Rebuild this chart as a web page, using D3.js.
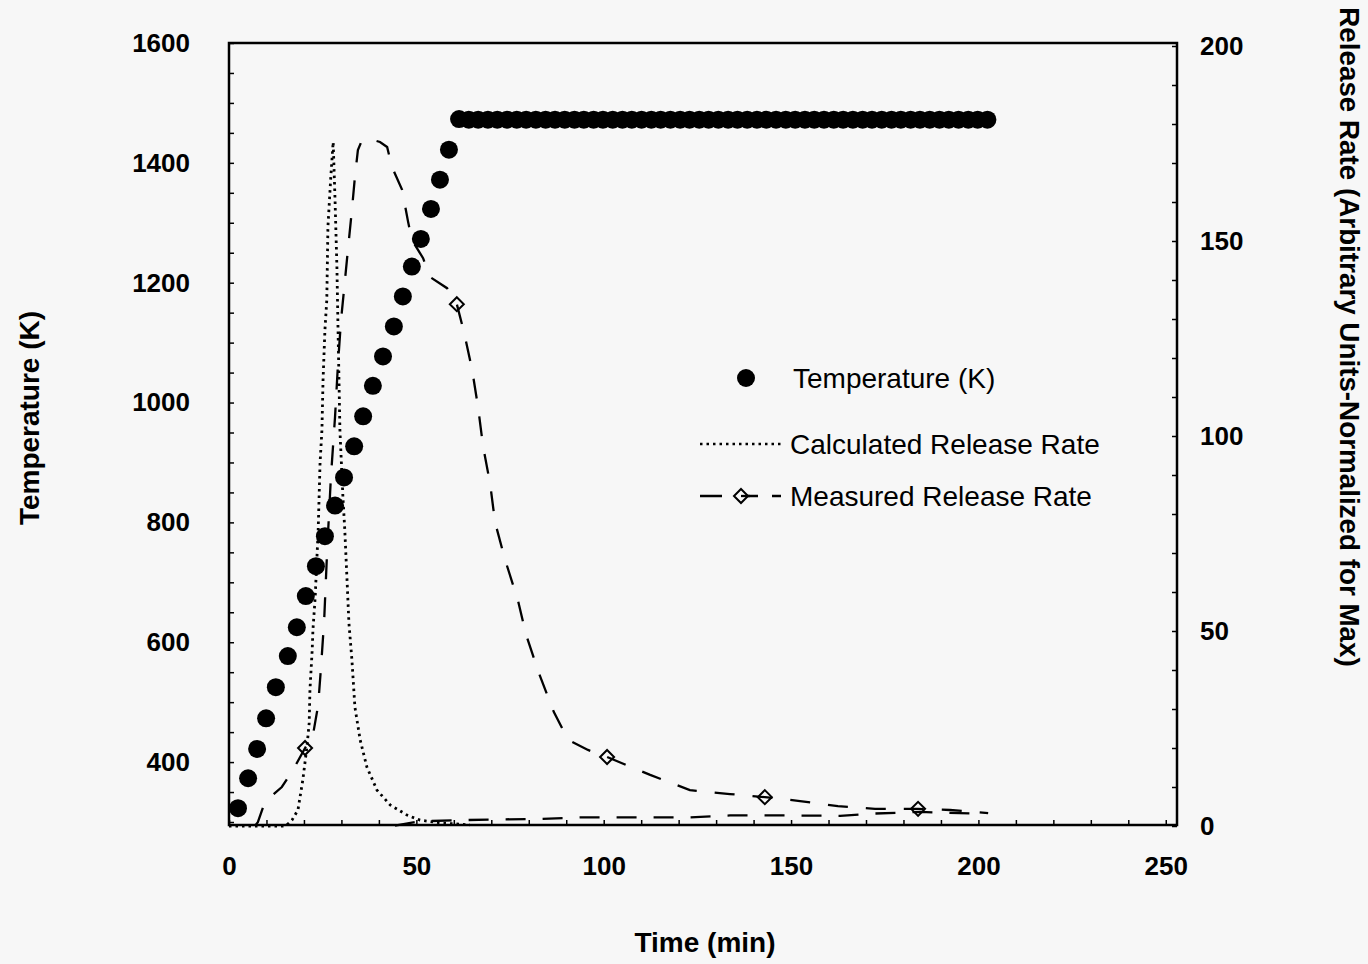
<!DOCTYPE html>
<html>
<head>
<meta charset="utf-8">
<script src="https://cdn.jsdelivr.net/npm/d3@7"></script>
<style>
  body { margin: 0; background: #f7f7f7; }
  svg { display: block; background: #f7f7f7; }
</style>
</head>
<body>
<div id="chart"></div>
<script>
// temperature (K), time in min
var tempTime = [2.4, 5.1, 7.5, 9.9, 12.5, 15.7, 18.1, 20.5, 23.2, 25.6, 28.3, 30.7, 33.4, 35.8,
  38.4, 41.1, 44.0, 46.4, 48.8, 51.2, 53.9, 56.3, 58.7, 61.4,
  64.0, 66.5, 69.1, 71.6, 74.2, 76.8, 79.3, 81.9, 84.5, 87.0, 89.6, 92.2, 94.7, 97.3, 99.8,
  102.4, 105.0, 107.5, 110.1, 112.7, 115.2, 117.8, 120.4, 122.9, 125.5, 128.0, 130.6, 133.2,
  135.7, 138.3, 140.9, 143.4, 146.0, 148.6, 151.1, 153.7, 156.2, 158.8, 161.4, 163.9, 166.5,
  169.1, 171.6, 174.2, 176.8, 179.3, 181.9, 184.4, 187.0, 189.6, 192.1, 194.7, 197.3, 199.8, 202.4];
var tempK = [323, 373, 422, 473, 525, 577, 625, 677, 727, 777, 828, 875, 927, 977,
  1028, 1077, 1127, 1177, 1227, 1273, 1323, 1372, 1422, 1473,
  1472, 1472, 1472, 1472, 1472, 1472, 1472, 1472, 1472, 1472, 1472, 1472, 1472, 1472, 1472,
  1472, 1472, 1472, 1472, 1472, 1472, 1472, 1472, 1472, 1472, 1472, 1472, 1472,
  1472, 1472, 1472, 1472, 1472, 1472, 1472, 1472, 1472, 1472, 1472, 1472, 1472,
  1472, 1472, 1472, 1472, 1472, 1472, 1472, 1472, 1472, 1472, 1472, 1472, 1472, 1472];

// calculated release rate (dotted)
var calcTime = [0, 15.0, 16.3, 16.8, 18.4, 19.7, 20.8, 21.4, 21.6, 22.2, 22.4, 23.0, 23.8, 24.3,
  24.8, 25.1, 25.6, 26.1, 26.4, 27.2, 27.8, 28.3, 28.8, 29.1, 29.6, 30.4, 30.9, 31.5, 32.0,
  32.8, 33.6, 35.0, 36.8, 39.5, 43.0, 47.5, 51.0, 56.3, 64.3];
var calcRate = [0, 0, 1.0, 1.5, 4.1, 11.8, 20.3, 26.4, 34.9, 45.1, 50.3, 58.7, 75.9, 93.1,
  101.5, 114.4, 127.2, 134.9, 153.6, 166.9, 175.4, 160.5, 143.3, 127.2, 101.5, 84.4, 75.9, 63.1, 52.1,
  42.6, 30.5, 22.1, 15.1, 9.2, 5.4, 2.8, 1.5, 0.8, 0.3];

// measured release rate (dashed)
var measTime = [6.9, 7.7, 9.6, 14.1, 17.1, 20.3, 22.4, 23.8, 24.6, 25.4, 26.2, 27.2, 28.3, 29.1,
  29.9, 31.0, 32.0, 32.8, 33.6, 34.4, 35.5, 38.4, 40.3, 42.2, 43.5, 46.2, 47.8, 48.8, 51.8,
  53.6, 58.2, 60.8, 62.7, 64.9, 66.5, 67.8, 69.7, 71.0, 73.7, 77.1, 79.3, 82.7, 86.7, 90.5,
  95.8, 100.9, 112.4, 123.0, 133.7, 143.0, 152.4, 162.5, 172.4, 183.9, 192.4, 202.6];
var measRate = [0, 1.0, 6.2, 10.0, 14.4, 20.0, 23.3, 31.0, 41.3, 52.8, 70.8, 89.5, 104.9, 118.7,
  129.7, 140.5, 150.3, 157.9, 166.4, 173.3, 175.9, 175.9, 175.4, 174.1, 169.0, 163.1, 154.9, 150.3, 145.6,
  140.8, 137.9, 133.8, 126.7, 116.9, 107.2, 97.4, 87.7, 77.9, 68.2, 57.9, 49.0, 39.2, 29.2, 22.1,
  19.5, 17.7, 13.1, 9.2, 8.2, 7.4, 6.4, 5.1, 4.4, 4.4, 4.1, 3.3];
var markTime = [20.3, 60.8, 100.9, 143.0, 183.9];
var markRate = [20.0, 133.8, 17.7, 7.4, 4.4];

// second low dashed trace near zero
var lowTime = [44.3, 51.0, 61.6, 72.3, 83.0, 93.7, 109.7, 123.0, 133.7, 149.7, 163.1, 172.4, 184.4, 202.0];
var lowRate = [0.1, 1.2, 1.5, 1.7, 1.8, 2.2, 2.2, 2.2, 2.7, 2.7, 2.6, 3.2, 3.6, 3.1];

var tempTicks = [400, 600, 800, 1000, 1200, 1400, 1600];
var rateTicks = [0, 50, 100, 150, 200];
var timeTicks = [0, 50, 100, 150, 200, 250];

var width = 1368, height = 964;
var plotLeft = 229, plotRight = 1177, plotTop = 43, plotBottom = 825;
var font = "'Liberation Sans', Arial, sans-serif";

var svg = d3.select("#chart").append("svg")
  .attr("width", width)
  .attr("height", height);

var x = d3.scaleLinear().domain([0, 253]).range([plotLeft, plotRight]);
var yT = d3.scaleLinear().domain([295, 1600]).range([plotBottom, plotTop]);
var yR = d3.scaleLinear().domain([0, 200]).range([plotBottom + 1, plotTop + 3]);

// minor ticks, pointing inward
svg.append("g")
  .attr("transform", `translate(${plotLeft},0)`)
  .call(d3.axisLeft(yT).tickValues(d3.range(300, 1601, 50)).tickSize(-5).tickFormat(""))
  .call(g => g.select(".domain").remove());
svg.append("g")
  .attr("transform", `translate(${plotRight},0)`)
  .call(d3.axisRight(yR).tickValues(d3.range(0, 201, 10)).tickSize(-5).tickFormat(""))
  .call(g => g.select(".domain").remove());
svg.append("g")
  .attr("transform", `translate(0,${plotBottom})`)
  .call(d3.axisBottom(x).tickValues(d3.range(0, 251, 10)).tickSize(-5).tickFormat(""))
  .call(g => g.select(".domain").remove());
svg.selectAll(".tick line").attr("stroke", "#000").attr("stroke-width", 1.5);

// tick labels
function styleLabels(g, size) {
  g.select(".domain").remove();
  g.attr("font-family", font).attr("font-size", size).attr("font-weight", "bold");
  g.selectAll("text").attr("fill", "#000");
}
svg.append("g")
  .attr("transform", `translate(${plotLeft},0)`)
  .call(d3.axisLeft(yT).tickValues(tempTicks).tickFormat(d3.format("d")).tickSize(0).tickPadding(39))
  .call(g => styleLabels(g, 26));
svg.append("g")
  .attr("transform", `translate(${plotRight},0)`)
  .call(d3.axisRight(yR).tickValues(rateTicks).tickFormat(d3.format("d")).tickSize(0).tickPadding(23))
  .call(g => styleLabels(g, 26));
svg.append("g")
  .attr("transform", `translate(0,${plotBottom})`)
  .call(d3.axisBottom(x).tickValues(timeTicks).tickFormat(d3.format("d")).tickSize(0).tickPadding(32))
  .call(g => styleLabels(g, 26));

// frame
svg.append("rect")
  .attr("x", plotLeft).attr("y", plotTop)
  .attr("width", plotRight - plotLeft).attr("height", plotBottom - plotTop)
  .attr("fill", "none").attr("stroke", "#000").attr("stroke-width", 2.5);

// axis titles
svg.append("text")
  .attr("transform", "translate(39,418) rotate(-90)")
  .attr("text-anchor", "middle")
  .attr("font-family", font).attr("font-weight", "bold").attr("font-size", 28)
  .text("Temperature (K)");
svg.append("text")
  .attr("x", 705).attr("y", 952)
  .attr("text-anchor", "middle")
  .attr("font-family", font).attr("font-weight", "bold").attr("font-size", 28)
  .text("Time (min)");
svg.append("text")
  .attr("transform", "translate(1340,337) rotate(90)")
  .attr("text-anchor", "middle")
  .attr("font-family", font).attr("font-weight", "bold").attr("font-size", 27.8)
  .text("Release Rate (Arbitrary Units-Normalized for Max)");

var calcData = calcTime.map((t, i) => [t, calcRate[i]]);
var measData = measTime.map((t, i) => [t, measRate[i]]);
var lowData = lowTime.map((t, i) => [t, lowRate[i]]);
var tempData = tempTime.map((t, i) => [t, tempK[i]]);
var markData = markTime.map((t, i) => [t, markRate[i]]);

var rateLine = d3.line().x(d => x(d[0])).y(d => yR(d[1]));

svg.append("path")
  .attr("d", rateLine(lowData))
  .attr("fill", "none").attr("stroke", "#000").attr("stroke-width", 2.3)
  .attr("stroke-dasharray", "20,17");

svg.append("path")
  .attr("d", rateLine(measData))
  .attr("fill", "none").attr("stroke", "#000").attr("stroke-width", 2.3)
  .attr("stroke-dasharray", "20,18");

svg.append("path")
  .attr("d", rateLine(calcData))
  .attr("fill", "none").attr("stroke", "#000").attr("stroke-width", 2.8)
  .attr("stroke-dasharray", "2.5,4");

var diamond = "M0,-7L7,0L0,7L-7,0Z";
svg.selectAll(".mark")
  .data(markData)
  .enter()
  .append("path")
  .attr("class", "mark")
  .attr("transform", d => `translate(${x(d[0])},${yR(d[1])})`)
  .attr("d", diamond)
  .attr("fill", "none").attr("stroke", "#000").attr("stroke-width", 2);

svg.selectAll(".temp")
  .data(tempData)
  .enter()
  .append("circle")
  .attr("class", "temp")
  .attr("cx", d => x(d[0]))
  .attr("cy", d => yT(d[1]))
  .attr("r", 9)
  .attr("fill", "#000");

// legend
var legend = svg.append("g").attr("font-family", font).attr("font-size", 28);
legend.append("circle").attr("cx", 746).attr("cy", 378).attr("r", 9).attr("fill", "#000");
legend.append("text").attr("x", 793).attr("y", 388).text("Temperature (K)");
legend.append("line").attr("x1", 700).attr("x2", 781).attr("y1", 444).attr("y2", 444)
  .attr("stroke", "#000").attr("stroke-width", 2.5).attr("stroke-dasharray", "2.5,4");
legend.append("text").attr("x", 790).attr("y", 454).text("Calculated Release Rate");
legend.append("line").attr("x1", 700).attr("x2", 781).attr("y1", 496).attr("y2", 496)
  .attr("stroke", "#000").attr("stroke-width", 2.3).attr("stroke-dasharray", "22,14");
legend.append("path").attr("transform", "translate(741,496)").attr("d", diamond)
  .attr("fill", "#f7f7f7").attr("stroke", "#000").attr("stroke-width", 2);
legend.append("line").attr("x1", 741).attr("x2", 750).attr("y1", 496).attr("y2", 496)
  .attr("stroke", "#000").attr("stroke-width", 2.3);
legend.append("text").attr("x", 790).attr("y", 506).text("Measured Release Rate");
</script>
</body>
</html>
